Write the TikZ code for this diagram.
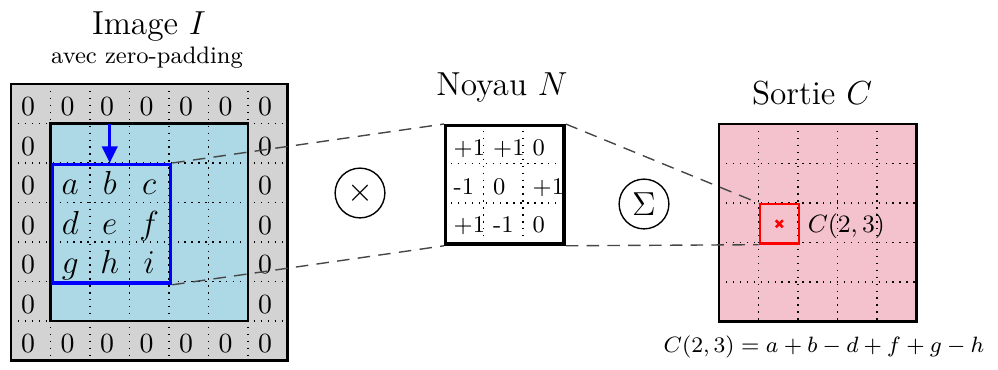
\documentclass[tikz,border=0pt]{standalone}
\usetikzlibrary{arrows.meta,calc}
\definecolor{padgray}{RGB}{211,211,211}
\definecolor{imgblue}{RGB}{173,216,230}
\definecolor{outpink}{RGB}{244,194,205}
\definecolor{dashgray}{RGB}{70,70,70}
\begin{document}
\begin{tikzpicture}[x=0.01266cm,y=-0.01266cm,
  cellgrid/.style={dotted, line width=0.5pt},
  frame/.style={draw=black, line width=0.8pt},
  zero/.style={inner sep=0pt, anchor=base, xshift=-0.035cm},
  letter/.style={inner sep=0pt, anchor=base, font=\large},
  knum/.style={anchor=base west, inner sep=3.3pt, font=\fontsize{8.6}{10}\selectfont},
  link/.style={draw=dashgray, dash pattern=on 4.5pt off 3pt, line width=0.5pt},
  opcircle/.style={circle, draw, line width=0.5pt, minimum size=0.63cm, inner sep=0pt, font=\large},
  title/.style={anchor=base, font=\large}]
\useasboundingbox (0,0) rectangle (998,369);

% ---------- Image I ----------
\fill[padgray] (11,84) rectangle (287.5,360.5);
\fill[imgblue] (50.5,123.5) rectangle (248,321);
\foreach \i in {1,...,6} {
  \draw[cellgrid] (11+39.5*\i,84) -- (11+39.5*\i,360.5);
  \draw[cellgrid] (11,84+39.5*\i) -- (287.5,84+39.5*\i);
}
\draw[frame] (50.5,123.5) rectangle (248,321);
\draw[frame] (11,84) rectangle (287.5,360.5);
\foreach \cc in {0,...,6} {
  \node[zero] (zt\cc) at (30.75+39.5*\cc,115.5) {0};
  \node[zero] (zb\cc) at (30.75+39.5*\cc,352) {0};
}
\foreach \rr in {1,...,5} {
  \node[zero] (zl\rr) at (30.75,115.5+39.5*\rr) {0};
  \node[zero] (zr\rr) at (267.75,115.5+39.5*\rr) {0};
}
\foreach \ch/\px/\py in {a/0/0,b/1/0,c/2/0,d/0/1,e/1/1,f/2/1,g/0/2,h/1/2,i/2/2} {
  \node[letter] (L\ch) at (70.25+39.5*\px,194.5+39.5*\py) {$\ch$};
}
\node[draw=blue, line width=1.2pt, minimum width=1.5cm, minimum height=1.5cm,
      inner sep=0pt, anchor=north west] (W) at (50.5,163) {};
\coordinate (arrowstart) at (109.75,123.5);
\draw[blue, line width=1.2pt, -{Triangle[length=6pt,width=5.5pt]}] (arrowstart) -- (arrowstart |- W.north);

\node[title] (tI) at (149,34) {Image $I$};
\node[anchor=base, font=\fontsize{8.6}{10}\selectfont] (tpad) at (147,63) {avec zero-padding};

% ---------- Kernel N ----------
\draw[cellgrid] (483.5,124) -- (483.5,242.5);
\draw[cellgrid] (523,124) -- (523,242.5);
\draw[cellgrid] (444,163.5) -- (562.5,163.5);
\draw[cellgrid] (444,203) -- (562.5,203);
\node[draw=black, line width=1.2pt, minimum width=1.5cm, minimum height=1.5cm,
      inner sep=0pt, anchor=north west] (K) at (444,124) {};
\node[knum] (k11) at (444,155.5) {+1};
\node[knum] (k12) at (483.5,155.5) {+1};
\node[knum] (k13) at (523,155.5) {0};
\node[knum] (k21) at (444,194) {-1};
\node[knum] (k22) at (483.5,194) {0};
\node[knum] (k23) at (523,194) {+1};
\node[knum] (k31) at (444,232.5) {+1};
\node[knum] (k32) at (483.5,232.5) {-1};
\node[knum] (k33) at (523,232.5) {0};
\node[title] (tN) at (502,95) {Noyau $N$};

\node[opcircle] (mul) at (360,193) {$\times$};

% ---------- Output C ----------
\fill[outpink] (719,124) rectangle (916.5,321.5);
\foreach \i in {1,...,4} {
  \draw[cellgrid] (719+39.5*\i,124) -- (719+39.5*\i,321.5);
  \draw[cellgrid] (719,124+39.5*\i) -- (916.5,124+39.5*\i);
}
\draw[frame] (719,124) rectangle (916.5,321.5);
\node[draw=red, line width=0.8pt, minimum width=0.5cm, minimum height=0.5cm,
      inner sep=0pt, anchor=north west] (R) at (758.5,203) {};
\draw[red, line width=0.9pt] ($(R.center)+(-3.5,-3.5)$) -- ($(R.center)+(3.5,3.5)$);
\draw[red, line width=0.9pt] ($(R.center)+(-3.5,3.5)$) -- ($(R.center)+(3.5,-3.5)$);
\node[anchor=base west, font=\small] (Clab) at (798,232) {$C(2,3)$};
\node[title] (tC) at (812,104) {Sortie $C$};
\node[anchor=base, font=\fontsize{8.4}{10}\selectfont] (eq) at (824,352) {$C(2,3)=a+b-d+f+g-h$};

\node[opcircle] (sum) at (644,204) {$\Sigma$};

% ---------- connectors ----------
\draw[link] (W.north east) -- (K.north west);
\draw[link] (W.south east) -- (K.south west);
\draw[link] (K.north east) -- (R.north west);
\draw[link] (K.south east) -- (R.south west);
\end{tikzpicture}
\end{document}
